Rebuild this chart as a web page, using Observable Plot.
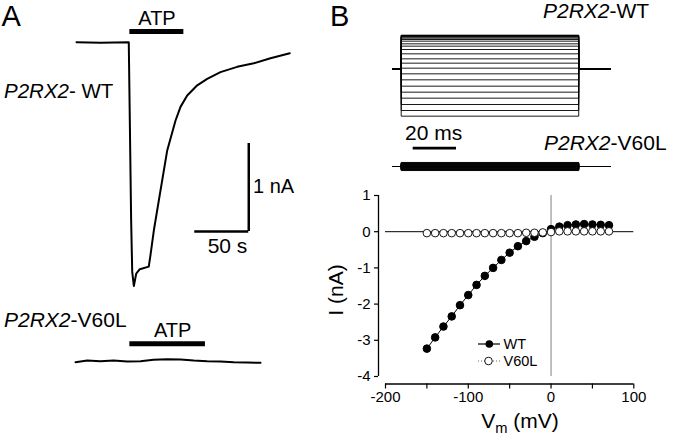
<!DOCTYPE html>
<html><head><meta charset="utf-8">
<script src="https://cdn.jsdelivr.net/npm/d3@7"></script>
<script src="https://cdn.jsdelivr.net/npm/@observablehq/plot@0.6"></script>
<style>
body{margin:0;background:#fff;}
#root{position:relative;width:674px;height:437px;overflow:hidden;font-family:"Liberation Sans",Arial,Helvetica,sans-serif;}
#root > svg{position:absolute;}
</style></head><body><div id="root"></div>
<script>
// ---------- Panel A: whole-cell current traces (time in s, current in nA) ----------
const wtTraceTime    = [0, 22.2, 48.4, 50.6, 51.6, 53.1, 55.3, 58.6, 66.9, 68.5, 71.6, 76.2, 84, 91.7, 96.3, 102.5, 111.8, 121, 133.3, 148.8, 164.2, 179.6, 197.5];
const wtTraceCurrent = [0, -0.005, 0, -2.03, -2.61, -2.77, -2.63, -2.58, -2.55, -2.42, -2.14, -1.80, -1.23, -0.89, -0.735, -0.606, -0.49, -0.416, -0.34, -0.28, -0.239, -0.182, -0.125];
const v60lTraceTime    = [-0.9, 9.9, 22.2, 34.3, 47, 59.3, 71.3, 84, 96.3, 108.6, 121, 133.3, 145.7, 158, 170.4];
const v60lTraceCurrent = [0, 0.019, 0.011, 0.019, 0.008, 0.011, 0.027, 0.034, 0.031, 0.019, 0.011, 0.008, 0, -0.003, -0.007];
const atpWT   = [49.4, 99.4];   // ATP application (s)
const atpV60L = [49.4, 119.4];
const scaleA  = {nA: 1, s: 50};

// ---------- Panel B: voltage-step current families (time in ms) ----------
const stepProtocol = [-4, 0, 82, 96.5];   // holding start, step on, step off, end (ms)
const wtFamilyLevels = [2.242, 2.22, 2.198, 2.153, 2.109, 2.042, 1.953, 1.842, 1.664, 1.509, 1.287, 0.998, 0.664, 0.376, 0.042, -0.336, -0.736, -1.158, -1.558, -1.958, -2.38, -2.78, -3.158];
const v60lFamilyLevels = [0.27, 0.24, 0.22, 0.2, 0.17, 0.15, 0.12, 0.1, 0.07, 0.05, 0.02, 0, -0.02, -0.05, -0.07, -0.1, -0.12, -0.15, -0.17, -0.2, -0.22, -0.24, -0.27];
const scaleBms = 20;

// ---------- Panel B: I-V relation ----------
const ivVoltage = [-150, -140, -130, -120, -110, -100, -90, -80, -70, -60, -50, -40, -30, -20, -10, 0, 10, 20, 30, 40, 50, 60, 70];
const ivWT   = [-3.23, -2.92, -2.62, -2.34, -2.03, -1.75, -1.47, -1.22, -1.00, -0.78, -0.58, -0.40, -0.26, -0.14, -0.04, 0.07, 0.14, 0.18, 0.20, 0.21, 0.20, 0.19, 0.18];
const ivV60L = [-0.04, -0.04, -0.04, -0.04, -0.04, -0.04, -0.04, -0.04, -0.04, -0.04, -0.04, -0.04, -0.03, -0.03, -0.02, -0.01, 0.01, 0.01, 0.01, 0.01, 0.01, 0.01, 0.01];
const xTickValues = [-200, -150, -100, -50, 0, 50, 100];
const xTickLabels = [-200, -100, 0, 100];
const yTickValues = [-4, -3, -2, -1, 0, 1];

const FONT = '"Liberation Sans", Arial, Helvetica, sans-serif';
const root = document.getElementById("root");
const baseStyle = {background: "transparent", overflow: "visible", fontFamily: FONT, color: "black"};
function place(svg, left, top) { svg.style.left = left + "px"; svg.style.top = top + "px"; root.appendChild(svg); }

// Panel A time scale: 1.08 px per s, t=0 at x=76 ; 88 px per nA
const pxS = 1.08, pxNA = 88, t0x = 76;
const xDomA = [-t0x / pxS, (340 - t0x) / pxS];

const wtRows = wtTraceTime.map((t, i) => ({t, I: wtTraceCurrent[i]}));
const pA = Plot.plot({
  width: 340, height: 300, margin: 0, style: baseStyle,
  x: {domain: xDomA, axis: null},
  y: {domain: [(41.7 - 300) / pxNA, 41.7 / pxNA], axis: null},
  marks: [
    Plot.line(wtRows, {x: "t", y: "I", stroke: "black", strokeWidth: 2}),
    Plot.ruleY([{y: 0.1216, a: atpWT[0], b: atpWT[1]}], {y: "y", x1: "a", x2: "b", stroke: "black", strokeWidth: 5}),
    Plot.ruleX([{x: 159.5, lo: -2.151, hi: -2.151 + scaleA.nA}], {x: "x", y1: "lo", y2: "hi", stroke: "black", strokeWidth: 2.5}),
    Plot.ruleY([{y: -2.151, a: 159.5 - scaleA.s, b: 159.5}], {y: "y", x1: "a", x2: "b", stroke: "black", strokeWidth: 2.5})
  ]
});
place(pA, 0, 0);

const v60lRows = v60lTraceTime.map((t, i) => ({t, I: v60lTraceCurrent[i]}));
const pA2 = Plot.plot({
  width: 340, height: 100, margin: 0, style: baseStyle,
  x: {domain: xDomA, axis: null},
  y: {domain: [(61.7 - 100) / pxNA, 61.7 / pxNA], axis: null},
  marks: [
    Plot.line(v60lRows, {x: "t", y: "I", stroke: "black", strokeWidth: 2}),
    Plot.ruleY([{y: 0.209, a: atpV60L[0], b: atpV60L[1]}], {y: "y", x1: "a", x2: "b", stroke: "black", strokeWidth: 5})
  ]
});
place(pA2, 0, 300);

// Panel B families: 2.165 px per ms, t=0 at local x 20.7; 15 px per unit
const pxMs = 2.165, pxU = 15, tb0 = 20.7;
const xDomB = [-tb0 / pxMs, (294 - tb0) / pxMs];
function familyRows(levels) {
  const rows = [];
  levels.forEach((L, k) => {
    const [a, on, off, end] = stepProtocol;
    rows.push({t: a, I: 0, k}, {t: on, I: 0, k}, {t: on, I: L, k}, {t: off, I: L, k}, {t: off, I: 0, k}, {t: end, I: 0, k});
  });
  return rows;
}
const pB1 = Plot.plot({
  width: 294, height: 155, margin: 0, style: baseStyle,
  x: {domain: xDomB, axis: null},
  y: {domain: [(68.3 - 155) / pxU, 68.3 / pxU], axis: null},
  marks: [
    Plot.line(familyRows(wtFamilyLevels), {x: "t", y: "I", z: "k", stroke: "black", strokeWidth: 0.9}),
    Plot.ruleY([{y: -5.293, a: 5.54, b: 5.54 + scaleBms}], {y: "y", x1: "a", x2: "b", stroke: "black", strokeWidth: 2.7})
  ]
});
place(pB1, 380, 0);

const pB2 = Plot.plot({
  width: 294, height: 30, margin: 0, style: baseStyle,
  x: {domain: xDomB, axis: null},
  y: {domain: [(16 - 30) / pxU, 16 / pxU], axis: null},
  marks: [
    Plot.line(familyRows(v60lFamilyLevels), {x: "t", y: "I", z: "k", stroke: "black", strokeWidth: 0.9})
  ]
});
place(pB2, 380, 150);

// I-V plot
const ivRows = ivVoltage.map((v, i) => ({v, wt: ivWT[i], mut: ivV60L[i]}));
const pIV = Plot.plot({
  width: 344, height: 257, marginLeft: 55, marginRight: 40.7, marginTop: 15, marginBottom: 61,
  style: {...baseStyle, fontSize: "15px"},
  x: {domain: [-200, 100]},
  y: {domain: [-4, 1]},
  marks: [
    Plot.axisY({ticks: yTickValues, tickSize: 4, tickPadding: 4, dx: -7, label: null, tickFormat: d => String(d), strokeWidth: 1.2}),
    Plot.axisX({ticks: xTickValues, tickSize: 5, tickPadding: 2, dy: 7.5, label: null, tickFormat: d => xTickLabels.includes(d) ? String(d) : "", strokeWidth: 1.2}),
    Plot.ruleX([-200], {y1: -4, y2: 1, dx: -7, stroke: "black", strokeWidth: 1.3}),
    Plot.ruleY([-4], {x1: -200, x2: 100, dy: 7.5, stroke: "black", strokeWidth: 1.6}),
    Plot.ruleY([0], {x1: -200, x2: 100, stroke: "black", strokeWidth: 1}),
    Plot.ruleX([0], {y1: -4, y2: 1, stroke: "#808080", strokeWidth: 1}),
    Plot.line(ivRows, {x: "v", y: "wt", stroke: "black", strokeWidth: 1}),
    Plot.line(ivRows, {x: "v", y: "mut", stroke: "#666", strokeWidth: 1, strokeDasharray: "1,2"}),
    Plot.dot(ivRows, {x: "v", y: "wt", r: 3.8, fill: "black", stroke: "black", strokeWidth: 1}),
    Plot.dot(ivRows, {x: "v", y: "mut", r: 3.8, fill: "white", stroke: "black", strokeWidth: 0.9})
  ]
});
place(pIV, 330, 180);

// Overlay text & legend
const ov = d3.create("svg").attr("width", 674).attr("height", 437)
  .style("left", "0px").style("top", "0px").attr("font-family", FONT).attr("fill", "black");
function txt(x, y, parts, size, anchor = "start") {
  const t = ov.append("text").attr("x", x).attr("y", y).attr("font-size", size).attr("text-anchor", anchor);
  parts.forEach(p => {
    const s = t.append("tspan").text(p.t);
    if (p.i) s.attr("font-style", "italic");
    if (p.sub) s.attr("font-size", size * 0.7).attr("dy", 5);
    if (p.up) s.attr("dy", -5);
  });
  return t;
}
txt(1.5, 26, [{t: "A"}], 29);
txt(330, 26, [{t: "B"}], 29);
txt(157, 25, [{t: "ATP"}], 20, "middle");
txt(4, 98.3, [{t: "P2RX2", i: 1}, {t: "- WT"}], 20.5);
txt(253, 192.7, [{t: "1 nA"}], 20);
txt(227.5, 252.7, [{t: "50 s"}], 21, "middle");
txt(4, 326.7, [{t: "P2RX2", i: 1}, {t: "-V60L"}], 21);
txt(172.7, 336.7, [{t: "ATP"}], 20, "middle");
txt(543, 18.3, [{t: "P2RX2", i: 1}, {t: "-WT"}], 21);
txt(405, 140, [{t: "20 ms"}], 21);
txt(544, 149.5, [{t: "P2RX2", i: 1}, {t: "-V60L"}], 21);
// axis titles
ov.append("text").attr("transform", "translate(343,290) rotate(-90)").attr("text-anchor", "middle")
  .attr("font-size", 21).text("I (nA)");
txt(520, 428, [{t: "V"}, {t: "m", sub: 1}, {t: " (mV)", up: 1}], 21, "middle");
// legend
const lg = ov.append("g");
lg.append("line").attr("x1", 478).attr("x2", 500).attr("y1", 344).attr("y2", 344).attr("stroke", "black").attr("stroke-width", 1.2);
lg.append("circle").attr("cx", 489.3).attr("cy", 344).attr("r", 3.8).attr("fill", "black");
lg.append("line").attr("x1", 478).attr("x2", 500).attr("y1", 361).attr("y2", 361).attr("stroke", "#666").attr("stroke-dasharray", "1,2");
lg.append("circle").attr("cx", 488.5).attr("cy", 361).attr("r", 3.8).attr("fill", "white").attr("stroke", "black").attr("stroke-width", 0.9);
txt(503.5, 349, [{t: "WT"}], 14.5);
txt(503.5, 366, [{t: "V60L"}], 14.5);
root.appendChild(ov.node());
</script></body></html>
